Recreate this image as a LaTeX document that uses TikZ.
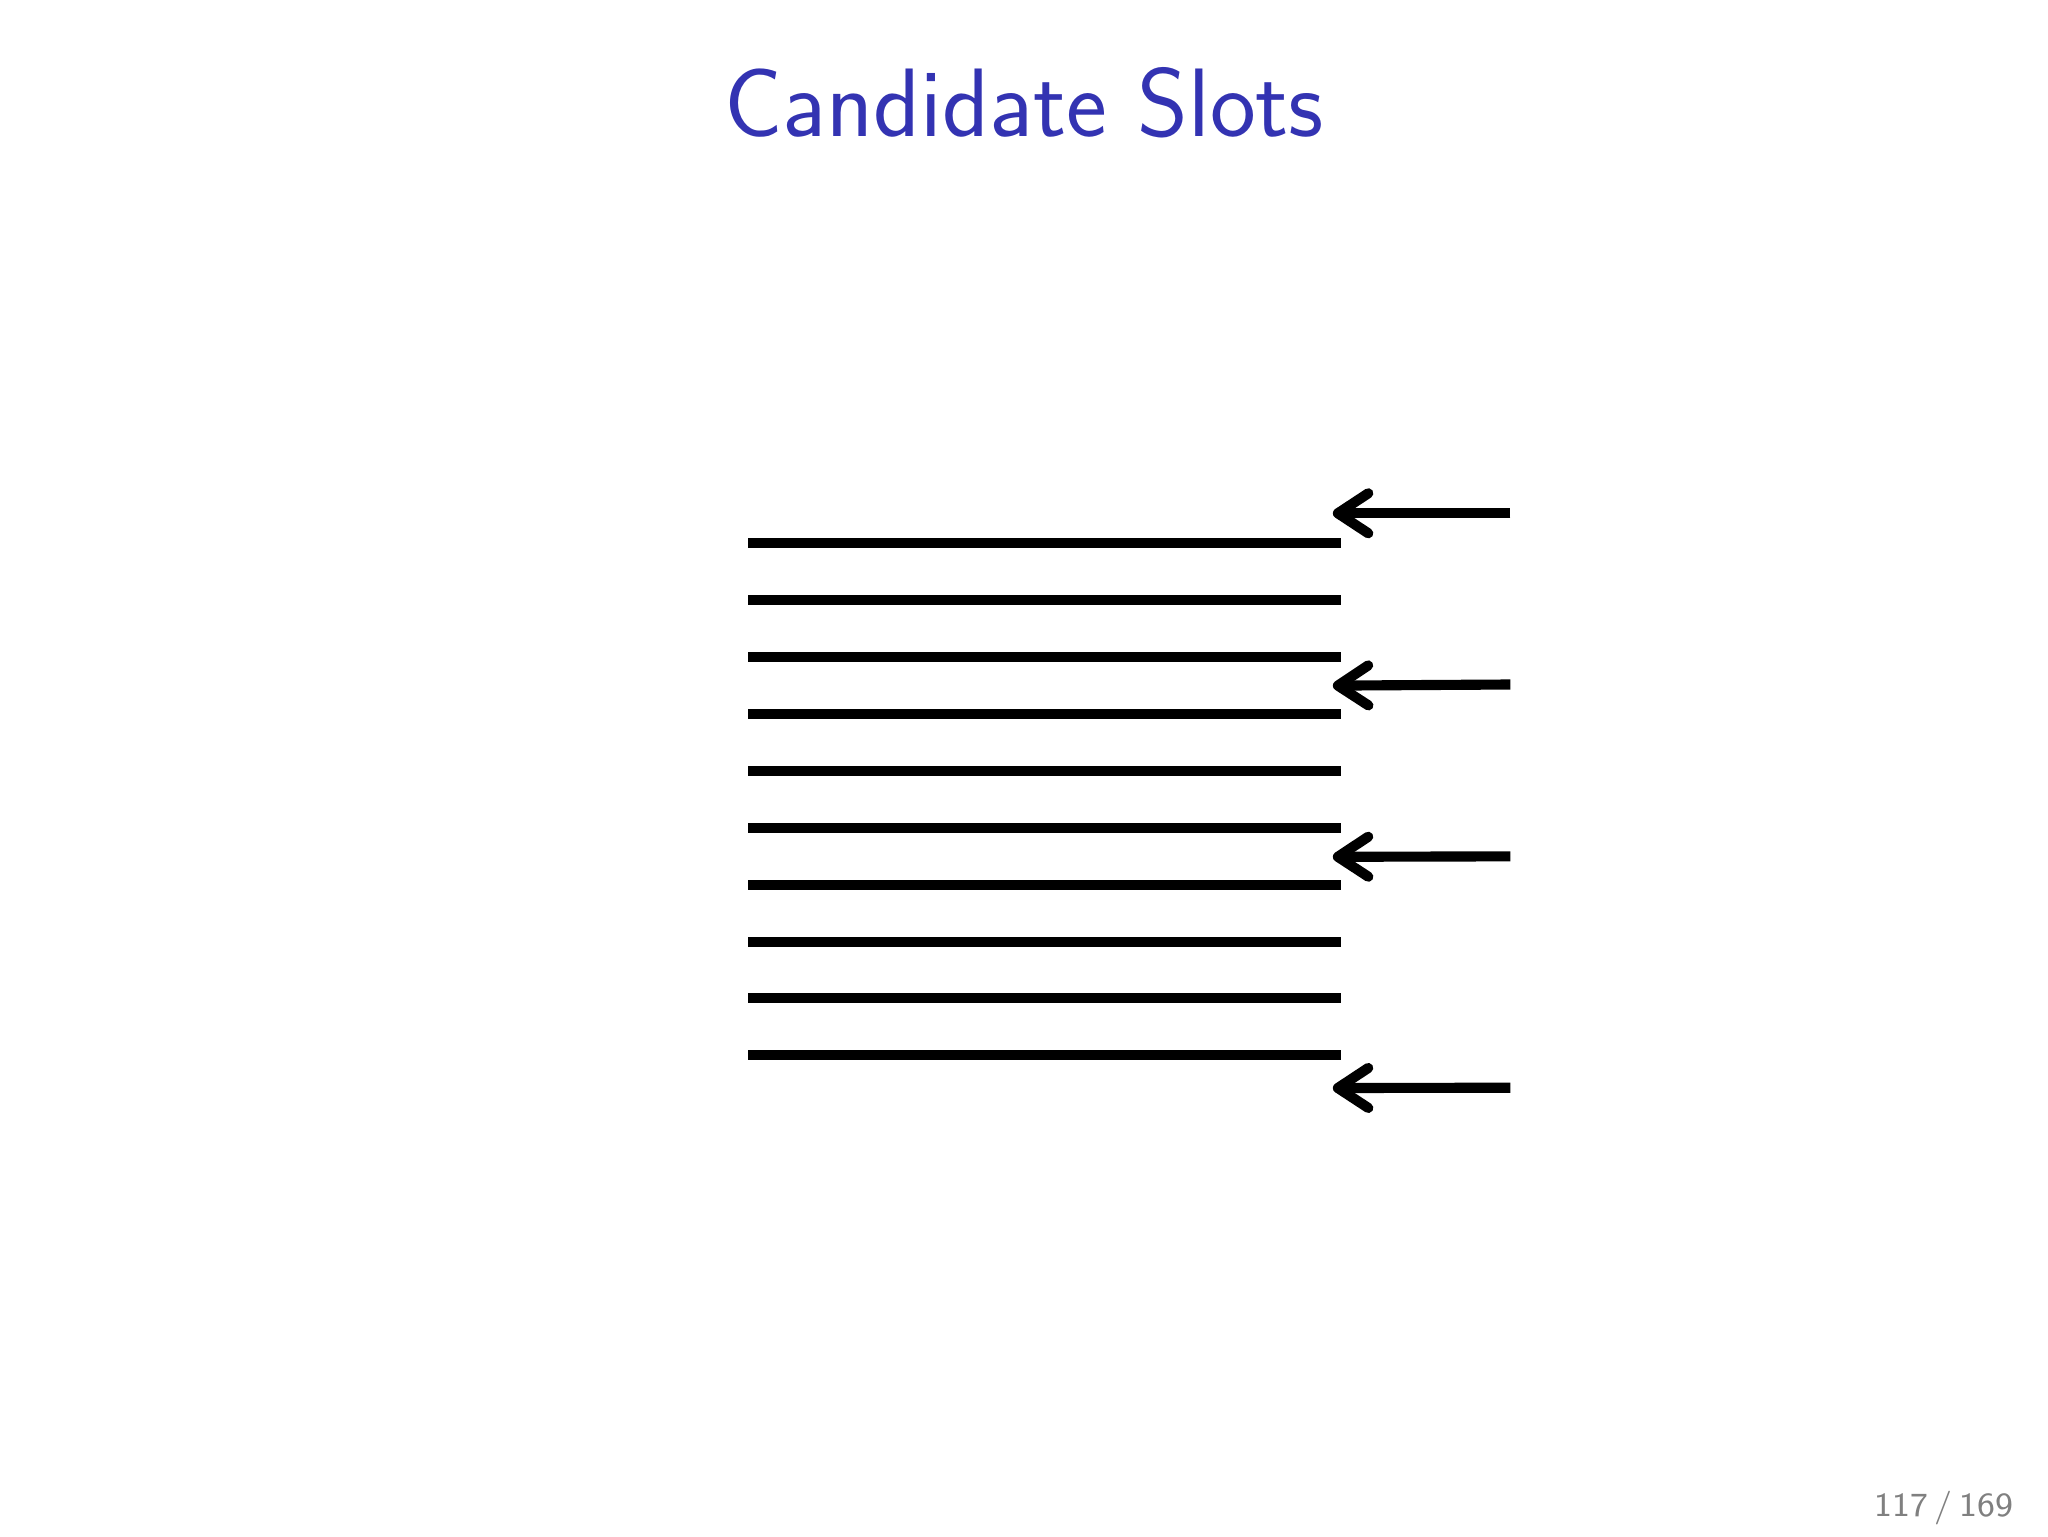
\documentclass[tikz,border=0pt]{standalone}
\usepackage{tikz}
\usetikzlibrary{arrows.meta, positioning}
\definecolor{slideblue}{rgb}{0.2,0.2,0.7}

\begin{document}
\begin{tikzpicture}[slot/.style={line width=1.8pt},
  pointer/.style={line width=1.8pt, -{Straight Barb[round, length=1.9mm, width=2.5mm]}}]
\useasboundingbox (0,0) rectangle (12.8,9.6);
\node[anchor=base, text=slideblue, font=\sffamily\fontsize{17.3}{20}\selectfont] (title) at (6.4,8.745) {Candidate Slots};
\node[anchor=base east, text=gray, font=\sffamily\fontsize{6}{7}\selectfont, inner sep=0pt] (pageno) at (12.59,0.12) {117\hspace{0.2em}/\hspace{0.2em}169};
% the slots
\draw[slot] (4.675,6.204)--(8.38,6.204);
\draw[slot] (4.675,5.848)--(8.38,5.848);
\draw[slot] (4.675,5.493)--(8.38,5.493);
\draw[slot] (4.675,5.137)--(8.38,5.137);
\draw[slot] (4.675,4.782)--(8.38,4.782);
\draw[slot] (4.675,4.426)--(8.38,4.426);
\draw[slot] (4.675,4.070)--(8.38,4.070);
\draw[slot] (4.675,3.715)--(8.38,3.715);
\draw[slot] (4.675,3.360)--(8.38,3.360);
\draw[slot] (4.675,3.004)--(8.38,3.004);
% candidates
\coordinate (tailA) at (9.44,6.392);
\coordinate (headA) at (8.33,6.392);
\coordinate (tailB) at (9.44,5.322);
\coordinate (headB) at (8.33,5.315);
\coordinate (tailC) at (9.44,4.248);
\coordinate (headC) at (8.33,4.245);
\coordinate (tailD) at (9.44,2.802);
\coordinate (headD) at (8.33,2.800);
\draw[pointer] (tailA)--(headA);
\draw[pointer] (tailB)--(headB);
\draw[pointer] (tailC)--(headC);
\draw[pointer] (tailD)--(headD);
\end{tikzpicture}
\end{document}
